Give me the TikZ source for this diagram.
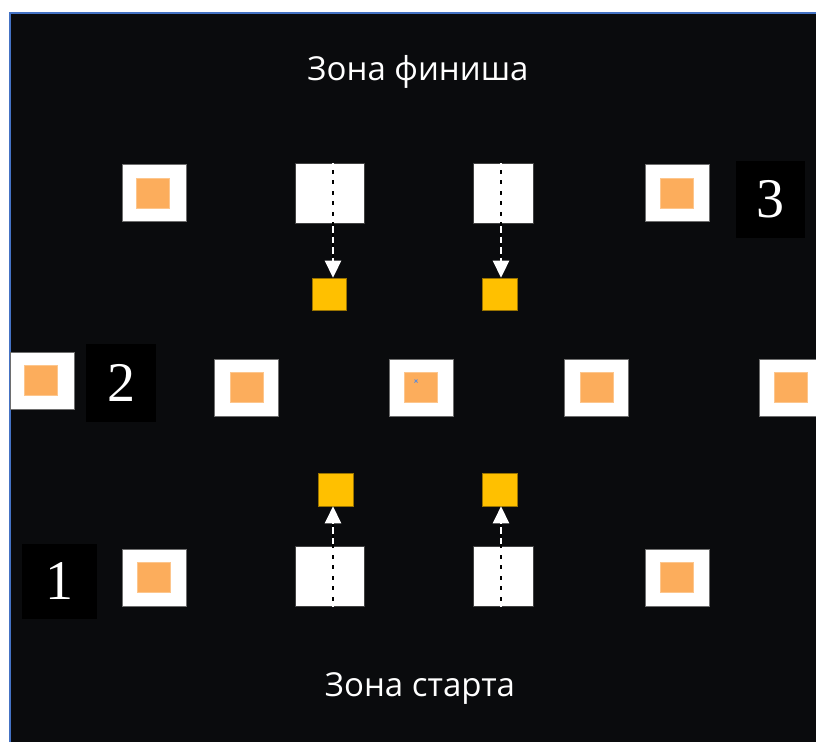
\documentclass[tikz,border=0pt]{standalone}
\usepackage{fontspec}
\setmainfont{Liberation Serif}
\newfontfamily\labelfont{Open Sans}
\usetikzlibrary{arrows.meta}
\definecolor{bgdark}{HTML}{0A0B0D}
\definecolor{edgeblue}{HTML}{4472C4}
\definecolor{orangein}{HTML}{FCAD5C}
\definecolor{yellowbox}{HTML}{FFC000}
\definecolor{boxedge}{HTML}{6E6E6E}
\tikzset{
  smallbox/.style={draw=boxedge, line width=0.8pt, fill=white, minimum width=64pt, minimum height=57pt, inner sep=0pt},
  innerbox/.style={draw=orangein!70!white, line width=0.6pt, fill=orangein, minimum width=33pt, minimum height=30pt, inner sep=0pt},
  whiterect/.style={draw=boxedge!60!black, line width=0.6pt, fill=white, minimum height=60pt, inner sep=0pt},
  yellowsq/.style={draw=yellowbox!60!black, line width=0.6pt, fill=yellowbox, minimum width=34pt, minimum height=32pt, inner sep=0pt},
  numbox/.style={fill=black, inner sep=0pt, text=white, font=\fontsize{56}{56}\selectfont},
  zonetext/.style={text=white, font=\labelfont\fontsize{33}{36}\selectfont},
  dashunder/.style={draw=black, line width=2.6pt},
  dashover/.style={draw=white, line width=2.6pt, dash pattern=on 6.5pt off 4pt},
  arrowtip/.style={-{Triangle[length=17pt,width=16pt]}}
}
\begin{document}
\begin{tikzpicture}[x=1pt,y=-1pt]
\useasboundingbox (0,0) rectangle (816,742);
\fill[white] (0,0) rectangle (816,742);
\fill[bgdark] (9,12) rectangle (816,742);
\draw[edgeblue, line width=1.5pt] (9.75,742) -- (9.75,12.75) -- (816,12.75);

% titles
\node[zonetext] (finish) at (418,72) {Зона финиша};
\node[zonetext] (start) at (420,689) {Зона старта};

% top row small boxes
\node[smallbox] (t1) at (154,192.5) {};
\node[innerbox] (t1i) at (152.5,193) {};
\node[smallbox] (t2) at (677,192.5) {};
\node[innerbox] (t2i) at (677,193) {};

% middle row
\node[smallbox] (m0) at (42.5,380.5) {};
\node[innerbox] (m0i) at (40.5,380) {};
\node[smallbox] (m1) at (246.5,387.5) {};
\node[innerbox] (m1i) at (246.5,387) {};
\node[smallbox] (m2) at (421,387.5) {};
\node[innerbox] (m2i) at (421,387) {};
\node[smallbox] (m3) at (596.5,387.5) {};
\node[innerbox] (m3i) at (596.5,387) {};
\node[smallbox] (m4) at (791,387.5) {};
\node[innerbox] (m4i) at (790.5,387) {};
% tiny mark
\draw[edgeblue!80!white, line width=0.8pt] (414.5,379.5) -- (417.5,382.5) (414.5,382.5) -- (417.5,379.5);

% bottom row small boxes
\node[smallbox] (b1) at (154,577.5) {};
\node[innerbox] (b1i) at (153.5,577) {};
\node[smallbox] (b2) at (677,577.5) {};
\node[innerbox] (b2i) at (677,577) {};

% number labels
\node[numbox, minimum width=69pt, minimum height=77pt] (n3) at (770.5,199.5) {3};
\node[numbox, minimum width=70pt, minimum height=78pt] (n2) at (121,383) {2};
\node[numbox, minimum width=75pt, minimum height=75pt] (n1) at (59.5,581.5) {1};

% white rectangles
\node[whiterect, minimum width=69pt] (w1) at (329.5,193) {};
\node[whiterect, minimum width=60pt] (w2) at (503,193) {};
\node[whiterect, minimum width=69pt] (w3) at (329.5,576.5) {};
\node[whiterect, minimum width=60pt] (w4) at (503,576.5) {};

% yellow squares
\node[yellowsq] (y1) at (329,294) {};
\node[yellowsq, minimum width=35pt] (y2) at (499.5,294) {};
\node[yellowsq, minimum width=35pt, minimum height=33pt] (y3) at (335.5,489.5) {};
\node[yellowsq, minimum width=35pt, minimum height=33pt] (y4) at (499.5,489.5) {};

% arrow anchor coordinates
\coordinate (s1) at (333,163);
\coordinate (s2) at (501,163);
\coordinate (s3) at (333,607);
\coordinate (s4) at (501,607);

% dashed arrows
\draw[dashunder, shorten >=16pt] (s1) -- (s1 |- y1.north);
\draw[dashover, arrowtip] (s1) -- (s1 |- y1.north);
\draw[dashunder, shorten >=16pt] (s2) -- (s2 |- y2.north);
\draw[dashover, arrowtip] (s2) -- (s2 |- y2.north);
\draw[dashunder, shorten >=16pt] (s3) -- (s3 |- y3.south);
\draw[dashover, arrowtip] (s3) -- (s3 |- y3.south);
\draw[dashunder, shorten >=16pt] (s4) -- (s4 |- y4.south);
\draw[dashover, arrowtip] (s4) -- (s4 |- y4.south);
\end{tikzpicture}
\end{document}
